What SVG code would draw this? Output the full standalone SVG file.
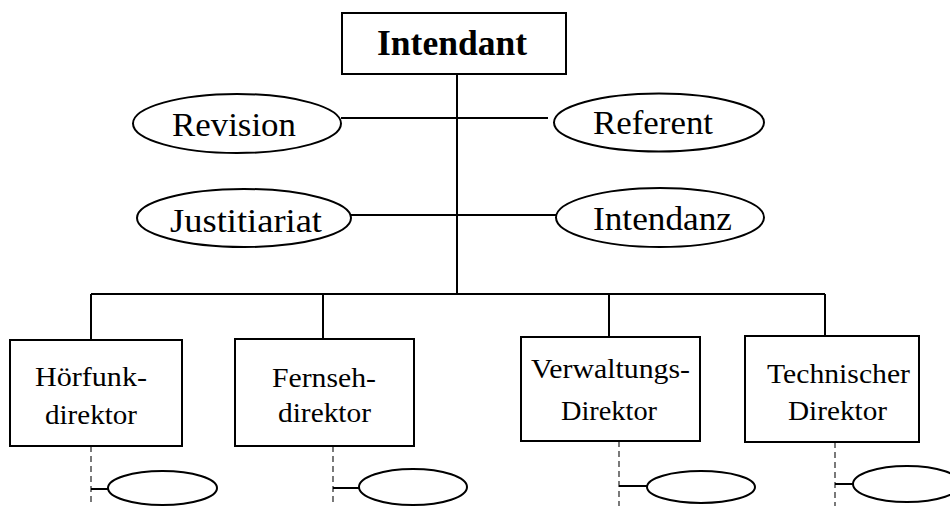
<svg xmlns="http://www.w3.org/2000/svg" width="950" height="506" viewBox="0 0 950 506">
<style>
.box{fill:#fff;stroke:#000;stroke-width:2}
.ell{fill:#fff;stroke:#000;stroke-width:2}
.ln{stroke:#000;stroke-width:2;fill:none}
.dash{stroke:#222;stroke-width:1.2;stroke-dasharray:6,4;fill:none}
.t{font-family:"Liberation Serif","Times New Roman",serif;fill:#000}
.big{font-size:33px}
.sm{font-size:27.5px}
.bold{font-weight:bold;font-size:35px}
</style>
<rect width="950" height="506" fill="#fff"/>
<g id="connectors">
<line class="ln" x1="457" y1="74" x2="457" y2="294"/>
<line class="ln" x1="341" y1="118" x2="548" y2="118"/>
<line class="ln" x1="351" y1="215" x2="556" y2="215"/>
<line class="ln" x1="91" y1="294" x2="825" y2="294"/>
<line class="ln" x1="91" y1="294" x2="91" y2="340"/>
<line class="ln" x1="323" y1="294" x2="323" y2="339"/>
<line class="ln" x1="609" y1="294" x2="609" y2="337"/>
<line class="ln" x1="825" y1="294" x2="825" y2="336"/>
<line class="dash" x1="91" y1="446" x2="91" y2="506"/>
<line class="dash" x1="333" y1="446" x2="333" y2="506"/>
<line class="dash" x1="619" y1="441" x2="619" y2="506"/>
<line class="dash" x1="835" y1="442" x2="835" y2="506"/>
<line class="ln" x1="91" y1="489" x2="108" y2="489"/>
<line class="ln" x1="333" y1="488" x2="359" y2="488"/>
<line class="ln" x1="619" y1="486" x2="647" y2="486"/>
<line class="ln" x1="835" y1="484" x2="853" y2="484"/>
</g>
<g id="intendant">
<rect class="box" x="342" y="13" width="224" height="61"/>
<text class="t bold" x="377" y="55" textLength="150" lengthAdjust="spacingAndGlyphs">Intendant</text>
</g>
<g id="revision">
<ellipse class="ell" cx="237" cy="123.5" rx="104" ry="29.5"/>
<text class="t big" x="172" y="136" textLength="124" lengthAdjust="spacingAndGlyphs">Revision</text>
</g>
<g id="referent">
<ellipse class="ell" cx="659" cy="122.5" rx="105" ry="29"/>
<text class="t big" x="593" y="134" textLength="120" lengthAdjust="spacingAndGlyphs">Referent</text>
</g>
<g id="justitiariat">
<ellipse class="ell" cx="244" cy="218" rx="107" ry="29"/>
<text class="t big" x="170" y="232" textLength="152" lengthAdjust="spacingAndGlyphs">Justitiariat</text>
</g>
<g id="intendanz">
<ellipse class="ell" cx="660" cy="217.5" rx="104" ry="29.5"/>
<text class="t big" x="593" y="230" textLength="139" lengthAdjust="spacingAndGlyphs">Intendanz</text>
</g>
<g id="hoerfunk">
<rect class="box" x="10" y="340" width="172" height="106"/>
<text class="t sm" x="35" y="386" textLength="112" lengthAdjust="spacingAndGlyphs">Hörfunk-</text>
<text class="t sm" x="45" y="424" textLength="92" lengthAdjust="spacingAndGlyphs">direktor</text>
</g>
<g id="fernseh">
<rect class="box" x="235" y="339" width="179" height="107"/>
<text class="t sm" x="272" y="387" textLength="104" lengthAdjust="spacingAndGlyphs">Fernseh-</text>
<text class="t sm" x="278" y="422" textLength="93" lengthAdjust="spacingAndGlyphs">direktor</text>
</g>
<g id="verwaltung">
<rect class="box" x="521" y="337" width="179" height="104"/>
<text class="t sm" x="531" y="378" textLength="159" lengthAdjust="spacingAndGlyphs">Verwaltungs-</text>
<text class="t sm" x="561" y="420" textLength="96" lengthAdjust="spacingAndGlyphs">Direktor</text>
</g>
<g id="technik">
<rect class="box" x="745" y="336" width="174" height="106"/>
<text class="t sm" x="767" y="383" textLength="143" lengthAdjust="spacingAndGlyphs">Technischer</text>
<text class="t sm" x="788" y="420" textLength="99" lengthAdjust="spacingAndGlyphs">Direktor</text>
</g>
<g id="sub1"><ellipse class="ell" cx="162.5" cy="488" rx="54.5" ry="17"/></g>
<g id="sub2"><ellipse class="ell" cx="413" cy="487" rx="54" ry="18"/></g>
<g id="sub3"><ellipse class="ell" cx="701" cy="487" rx="54" ry="16"/></g>
<g id="sub4"><ellipse class="ell" cx="907" cy="484" rx="54" ry="18"/></g>
</svg>
